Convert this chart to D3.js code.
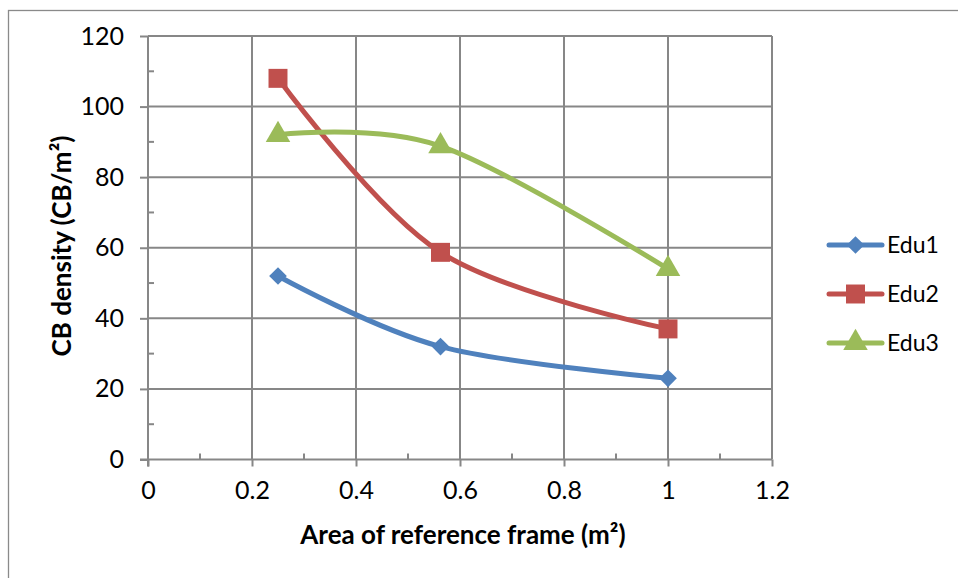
<!DOCTYPE html>
<html>
<head>
<meta charset="utf-8">
<script src="https://cdn.jsdelivr.net/npm/d3@7"></script>
<style>
  html, body { margin: 0; padding: 0; background: #fff; }
  svg { display: block; font-family: Lato, "Open Sans", sans-serif; }
</style>
</head>
<body>
<svg id="chart" width="958" height="578"></svg>
<script>
// ---- data ----
const xValues = [0.25, 0.5625, 1];
const edu1 = [52, 32, 23];
const edu2 = [108, 58.7, 37];
const edu3 = [92, 88.8, 54];
const seriesNames = ["Edu1", "Edu2", "Edu3"];
const xTicks = [0, 0.2, 0.4, 0.6, 0.8, 1, 1.2];
const xTickLabels = ["0", "0.2", "0.4", "0.6", "0.8", "1", "1.2"];
const yTicks = [0, 20, 40, 60, 80, 100, 120];
const xMinorTicks = [0.1, 0.3, 0.5, 0.7, 0.9, 1.1];
const yMinorTicks = [10, 30, 50, 70, 90, 110];
const xTitle = "Area of reference frame (m²)";
const yTitle = "CB density (CB/m²)";

const seriesData = [edu1, edu2, edu3];
const colors = ["#4F81BD", "#C0504D", "#9BBB59"];
const markers = ["diamond", "square", "triangle"];

const svg = d3.select("#chart");
const gridColor = "#878787";

// outer chart border
svg.append("rect").attr("x", 8.5).attr("y", 10.5).attr("width", 1000).attr("height", 1000)
  .attr("fill", "#fff").attr("stroke", "#8a8a8a").attr("stroke-width", 1.3);

const x = d3.scaleLinear().domain([0, 1.2]).range([148, 772]);
const y = d3.scaleLinear().domain([0, 120]).range([459.5, 36]);

// gridlines
const grid = svg.append("g").attr("stroke", gridColor).attr("stroke-width", 2);
grid.selectAll("line.h").data(yTicks.filter(d => d > 0)).join("line")
  .attr("x1", x(0)).attr("x2", x(1.2)).attr("y1", d => y(d)).attr("y2", d => y(d));
grid.selectAll("line.v").data(xTicks.filter(d => d > 0)).join("line")
  .attr("x1", d => x(d)).attr("x2", d => x(d)).attr("y1", y(0)).attr("y2", y(120));

// axes
const xAxis = d3.axisBottom(x).tickValues(xTicks).tickFormat((d, i) => xTickLabels[i]).tickSize(7).tickPadding(15);
const yAxis = d3.axisLeft(y).tickValues(yTicks).tickSize(8).tickPadding(16);

const gx = svg.append("g").attr("transform", `translate(0,${y(0)})`).call(xAxis);
const gy = svg.append("g").attr("transform", `translate(${x(0)},0)`).call(yAxis);
[gx, gy].forEach(g => {
  g.select(".domain").attr("stroke", gridColor).attr("stroke-width", 2);
  g.selectAll(".tick line").attr("stroke", gridColor).attr("stroke-width", 2);
  g.selectAll(".tick text").attr("fill", "#000").attr("font-size", 25).attr("font-family", "Lato, sans-serif");
});
gx.select(".domain").attr("d", `M${x(0) - 8},0H${x(1.2)}`);
gy.select(".domain").attr("d", `M0,${y(0) + 7}V${y(120)}`);

// minor ticks (inside)
svg.append("g").attr("stroke", gridColor).attr("stroke-width", 2)
  .selectAll("line").data(xMinorTicks).join("line")
  .attr("x1", d => x(d)).attr("x2", d => x(d)).attr("y1", y(0)).attr("y2", y(0) - 6);
svg.append("g").attr("stroke", gridColor).attr("stroke-width", 2)
  .selectAll("line").data(yMinorTicks).join("line")
  .attr("x1", x(0)).attr("x2", x(0) + 6).attr("y1", d => y(d)).attr("y2", d => y(d));

// axis titles
svg.append("text").attr("x", 463).attr("y", 544).attr("text-anchor", "middle")
  .attr("font-size", 26).attr("font-weight", "bold").attr("fill", "#000").text(xTitle);
svg.append("text").attr("transform", `translate(71,${246}) rotate(-90)`).attr("text-anchor", "middle")
  .attr("font-size", 26).attr("font-weight", "bold").attr("fill", "#000").text(yTitle);

// marker shapes
function markerPath(type) {
  if (type === "diamond") return d3.symbol(d3.symbolDiamond2, 200)();
  if (type === "square") return d3.symbol(d3.symbolSquare, 360)();
  return d3.symbol(d3.symbolTriangle, 260)();
}

const line = d3.line().x(d => x(d[0])).y(d => y(d[1])).curve(d3.curveCardinal.tension(0));

seriesData.forEach((vals, i) => {
  const pts = xValues.map((xv, j) => [xv, vals[j]]);
  svg.append("path").datum(pts).attr("d", line).attr("fill", "none")
    .attr("stroke", colors[i]).attr("stroke-width", 5).attr("stroke-linecap", "round");
  svg.append("g").selectAll("path").data(pts).join("path")
    .attr("transform", d => `translate(${x(d[0])},${y(d[1])})`)
    .attr("d", markerPath(markers[i])).attr("fill", colors[i]);
});

// legend
const legendY = [245, 294, 343];
const lg = svg.append("g");
seriesNames.forEach((name, i) => {
  lg.append("line").attr("x1", 829).attr("x2", 882).attr("y1", legendY[i]).attr("y2", legendY[i])
    .attr("stroke", colors[i]).attr("stroke-width", 5).attr("stroke-linecap", "round");
  lg.append("path").attr("transform", `translate(855.5,${legendY[i]})`).attr("d", markerPath(markers[i])).attr("fill", colors[i]);
  lg.append("text").attr("x", 887).attr("y", legendY[i]).attr("dy", "0.36em")
    .attr("font-size", 23).attr("fill", "#000").text(name);
});
</script>
</body>
</html>
